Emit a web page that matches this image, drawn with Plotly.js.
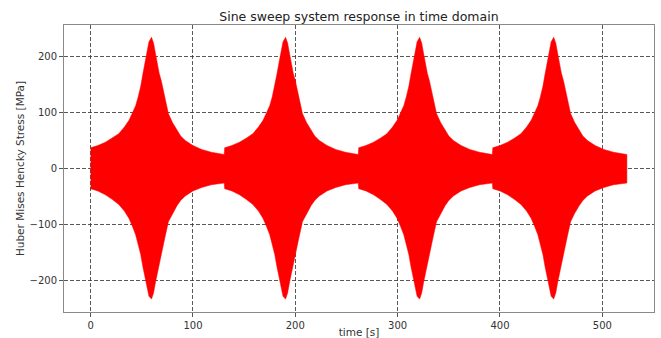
<!DOCTYPE html>
<html>
<head>
<meta charset="utf-8">
<script src="https://cdn.plot.ly/plotly-3.0.1.min.js"></script>
<style>html,body{margin:0;padding:0;background:#fff;}#chart{width:661px;height:338px;}</style>
</head>
<body>
<div id="chart"></div>
<script>
// Envelope of the sine sweep response
const timeS = [
  0, 7, 14.5, 21, 27.5, 33, 37.5, 41, 44, 46.5, 49, 51, 53.5, 55.5, 57, 59.5, 61.5, 63.5, 65, 67, 69, 72.5, 76, 80, 84.5, 88, 92.5, 100, 108.5, 118, 130.5,
  131, 138, 145.5, 152, 158.5, 164, 168.5, 172, 175, 177.5, 180, 182, 184.5, 186.5, 188, 190.5, 192.5, 194.5, 196, 198, 200, 203.5, 207, 211, 215.5, 219, 223.5, 231, 239.5, 249, 261.5,
  262, 269, 276.5, 283, 289.5, 295, 299.5, 303, 306, 308.5, 311, 313, 315.5, 317.5, 319, 321.5, 323.5, 325.5, 327, 329, 331, 334.5, 338, 342, 346.5, 350, 354.5, 362, 370.5, 380, 392.5,
  393, 400, 407.5, 414, 420.5, 426, 430.5, 434, 437, 439.5, 442, 444, 446.5, 448.5, 450, 452.5, 454.5, 456.5, 458, 460, 462, 465.5, 469, 473, 477.5, 481, 485.5, 493, 501.5, 511, 524
];
const upperEnv = [
  37, 41, 47, 54, 62, 74, 86, 100, 112, 128, 147, 168, 193, 213, 226, 234, 224, 204, 187, 170, 157, 128, 98, 82, 68, 58, 50, 41, 34, 29, 25,
  37, 41, 47, 54, 62, 74, 86, 100, 112, 128, 147, 168, 193, 213, 226, 234, 224, 204, 187, 170, 157, 128, 98, 82, 68, 58, 50, 41, 34, 29, 25,
  37, 41, 47, 54, 62, 74, 86, 100, 112, 128, 147, 168, 193, 213, 226, 234, 224, 204, 187, 170, 157, 128, 98, 82, 68, 58, 50, 41, 34, 29, 25,
  37, 41, 47, 54, 62, 74, 86, 100, 112, 128, 147, 168, 193, 213, 226, 234, 224, 204, 187, 170, 157, 128, 98, 82, 68, 58, 50, 41, 34, 29, 25
];
const lowerEnv = [
  -36, -40, -47, -55, -64, -76, -89, -104, -118, -135, -154, -175, -198, -216, -228, -233, -222, -202, -186, -168, -154, -124, -95, -80, -66, -57, -49, -40, -34, -29, -26,
  -36, -40, -47, -55, -64, -76, -89, -104, -118, -135, -154, -175, -198, -216, -228, -233, -222, -202, -186, -168, -154, -124, -95, -80, -66, -57, -49, -40, -34, -29, -26,
  -36, -40, -47, -55, -64, -76, -89, -104, -118, -135, -154, -175, -198, -216, -228, -233, -222, -202, -186, -168, -154, -124, -95, -80, -66, -57, -49, -40, -34, -29, -26,
  -36, -40, -47, -55, -64, -76, -89, -104, -118, -135, -154, -175, -198, -216, -228, -233, -222, -202, -186, -168, -154, -124, -95, -80, -66, -57, -49, -40, -34, -29, -26
];
const xTicks = [0, 100, 200, 300, 400, 500];
const yTicks = [-200, -100, 0, 100, 200];

const polyX = timeS.concat(timeS.slice().reverse());
const polyY = upperEnv.concat(lowerEnv.slice().reverse());

const font = 'DejaVu Sans, sans-serif';
const trace = {
  type: 'scatter', mode: 'lines',
  x: polyX, y: polyY,
  fill: 'toself', fillcolor: '#ff0000',
  line: {color: '#ff0000', width: 0.5},
  hoverinfo: 'skip', showlegend: false
};
const axisCommon = {
  showline: true, mirror: true, linecolor: '#8a8a8a', linewidth: 1,
  ticks: 'outside', ticklen: 4, tickcolor: '#555', tickwidth: 1,
  showgrid: true, gridcolor: 'rgba(60,60,60,0.85)', gridwidth: 1, griddash: '4px,2px',
  zeroline: false,
  tickfont: {family: font, size: 10, color: '#333'}
};
const layout = {
  width: 661, height: 338,
  margin: {l: 64, r: 7, t: 25, b: 26},
  paper_bgcolor: '#fff', plot_bgcolor: '#fff',
  title: {text: 'Sine sweep system response in time domain', x: 0.543, xanchor: 'center', y: 0.95, yanchor: 'middle',
          font: {family: font, size: 12.5, color: '#222'}},
  xaxis: Object.assign({}, axisCommon, {
    range: [-26, 550.5], tickvals: xTicks, ticktext: xTicks.map(String),
    title: {text: 'time [s]', font: {family: font, size: 10.5, color: '#333'}, standoff: 3}
  }),
  yaxis: Object.assign({}, axisCommon, {
    range: [-256, 256], tickvals: yTicks, ticktext: yTicks.map(v => v < 0 ? '\u2212' + Math.abs(v) : String(v)),
    title: {text: 'Huber Mises Hencky Stress [MPa]', font: {family: font, size: 10.5, color: '#333'}, standoff: 2}
  })
};
Plotly.newPlot('chart', [trace], layout, {displayModeBar: false, staticPlot: true});
</script>
</body>
</html>
